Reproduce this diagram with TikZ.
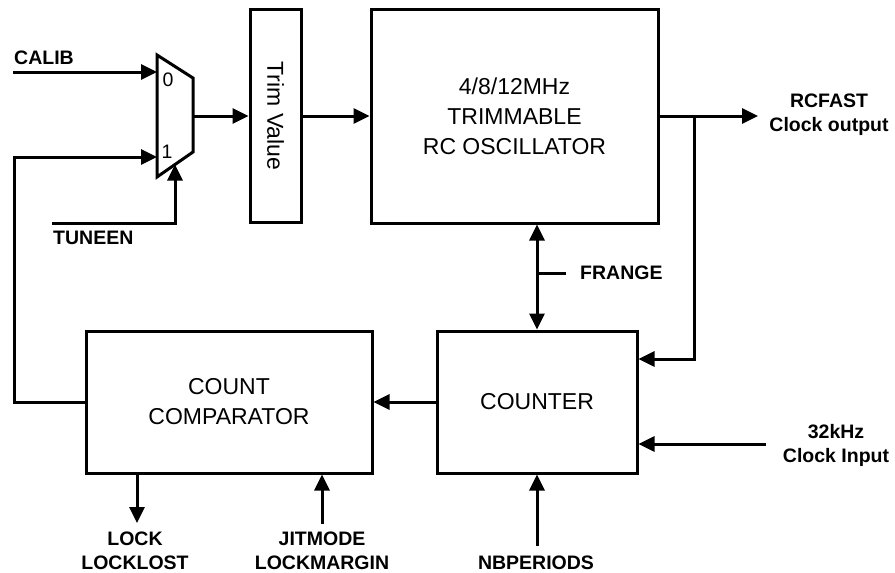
\documentclass[tikz,border=0pt]{standalone}
\usepackage{fontspec}
\setmainfont{Liberation Sans}
\usepackage{tikz}
\usetikzlibrary{arrows.meta, positioning}

\begin{document}
\begin{tikzpicture}[
    x=1pt, y=-1pt,
    block/.style={rectangle, draw, line width=3pt, align=center, inner sep=0pt, font=\fontsize{23}{30}\selectfont},
    sig/.style={align=center, inner sep=0pt, font=\fontsize{19.5}{24}\selectfont\bfseries},
    line/.style={draw, line width=3pt, -{Triangle[length=16pt, width=15pt]}},
    wire/.style={draw, line width=3pt}
]
    \useasboundingbox (0,0) rectangle (895,573);

    % blocks
    \node [block, minimum width=51pt, minimum height=213pt] (trim) at (275.5,116) {};
    \node [rotate=-90, font=\fontsize{23}{26}\selectfont] (trimtext) at (trim.center) {Trim Value};
    \node [block, minimum width=287pt, minimum height=214pt] (osc) at (514.5,116) {4/8/12MHz\\TRIMMABLE\\RC OSCILLATOR};
    \node [block, minimum width=286pt, minimum height=142pt] (comp) at (229,402) {COUNT\\COMPARATOR};
    \node [block, minimum width=200pt, minimum height=142pt] (counter) at (537,402) {COUNTER};

    % multiplexer
    \coordinate (mtl) at (157,55);
    \coordinate (mtr) at (193,78);
    \coordinate (mbr) at (193,152);
    \coordinate (mbl) at (157,177);
    \path [wire, line join=miter] (mtl) -- (mtr) -- (mbr) -- (mbl) -- cycle;
    \coordinate (muxin0) at (157,72);
    \coordinate (muxin1) at (157,157);
    \coordinate (muxout) at (193,116);
    \coordinate (muxsel) at (175,164.5);
    \node [font=\fontsize{19.5}{22}\selectfont] (zero) at (168,80) {0};
    \node [font=\fontsize{19.5}{22}\selectfont] (one) at (167,152) {1};

    % signal labels
    \node [sig, anchor=west] (calib) at (14,58) {CALIB};
    \node [sig, anchor=west] (tuneen) at (53,238) {TUNEEN};
    \node [sig] (rcfast) at (829,115) {RCFAST\\Clock output};
    \node [sig, anchor=west] (frange) at (580,273) {FRANGE};
    \node [sig] (clkin) at (836,445) {32kHz\\Clock Input};
    \node [sig] (lock) at (135,551) {LOCK\\LOCKLOST};
    \node [sig] (jitmode) at (322,551) {JITMODE\\LOCKMARGIN};
    \node [sig] (nbper) at (536,563) {NBPERIODS};

    % free ends
    \coordinate (calibin) at (13,72);
    \coordinate (tuneenin) at (52,223);
    \coordinate (fbcorner) at (14,402);
    \coordinate (outend) at (758,116);
    \coordinate (outsplit) at (694,116);
    \coordinate (clkinend) at (766,444);
    \coordinate (franget) at (566,273);
    \coordinate (lockend) at (137,523);
    \coordinate (jitin) at (322,524);
    \coordinate (nbin) at (537,546);

    \path [line] (calibin) -- (muxin0);
    \path [line] (comp.west) -- (fbcorner) |- (muxin1);
    \path [line] (tuneenin) -| (muxsel);
    \path [line] (muxout) -- (trim.west |- muxout);
    \path [line] (trim.east) -- (osc.west);
    \path [line] (osc.east) -- (outend);
    \path [line] (outsplit) |- (counter.east |- 0,359);
    \path [draw, line width=3pt, {Triangle[length=16pt, width=15pt]}-{Triangle[length=16pt, width=15pt]}] (counter.north |- osc.south) -- (counter.north);
    \path [wire] (counter.north |- franget) -- (franget);
    \path [line] (clkinend) -- (counter.east |- clkinend);
    \path [line] (counter.west) -- (comp.east);
    \path [line] (comp.south -| lockend) -- (lockend);
    \path [line] (jitin) -- (comp.south -| jitin);
    \path [line] (nbin) -- (counter.south);
\end{tikzpicture}
\end{document}
